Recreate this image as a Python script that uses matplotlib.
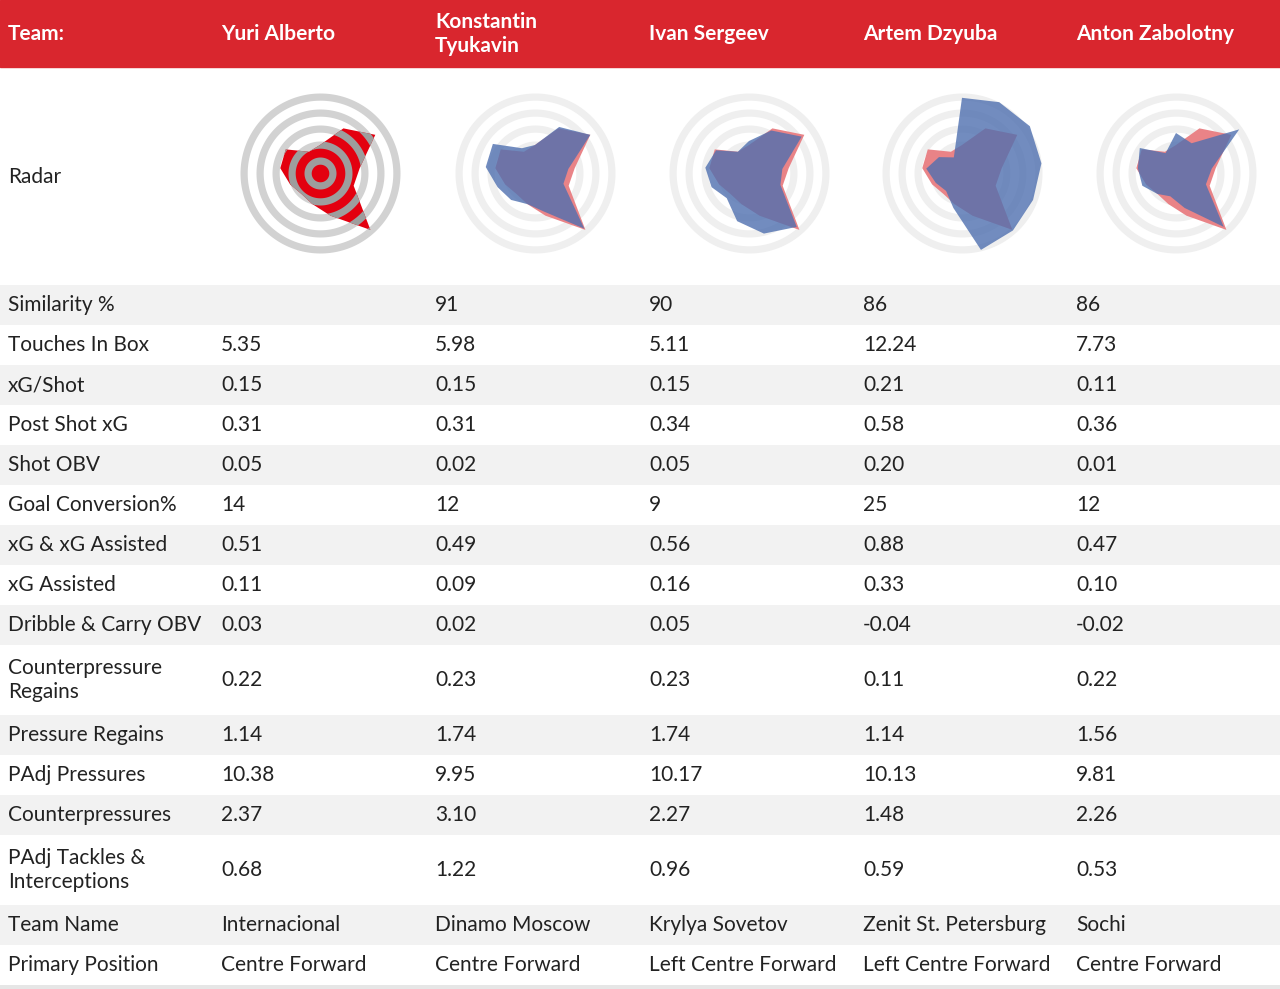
import numpy as np
import matplotlib.pyplot as plt
from matplotlib.patches import Rectangle

plt.rcParams['font.family'] = ['Lato', 'DejaVu Sans']

players = ["Yuri Alberto", "Konstantin\nTyukavin", "Ivan Sergeev", "Artem Dzyuba", "Anton Zabolotny"]
metrics = ["Similarity %", "Touches In Box", "xG/Shot", "Post Shot xG", "Shot OBV",
           "Goal Conversion%", "xG & xG Assisted", "xG Assisted", "Dribble & Carry OBV",
           "Counterpressure\nRegains", "Pressure Regains", "PAdj Pressures", "Counterpressures",
           "PAdj Tackles &\nInterceptions", "Team Name", "Primary Position"]
values = [
    ["", "91", "90", "86", "86"],
    ["5.35", "5.98", "5.11", "12.24", "7.73"],
    ["0.15", "0.15", "0.15", "0.21", "0.11"],
    ["0.31", "0.31", "0.34", "0.58", "0.36"],
    ["0.05", "0.02", "0.05", "0.20", "0.01"],
    ["14", "12", "9", "25", "12"],
    ["0.51", "0.49", "0.56", "0.88", "0.47"],
    ["0.11", "0.09", "0.16", "0.33", "0.10"],
    ["0.03", "0.02", "0.05", "-0.04", "-0.02"],
    ["0.22", "0.23", "0.23", "0.11", "0.22"],
    ["1.14", "1.74", "1.74", "1.14", "1.56"],
    ["10.38", "9.95", "10.17", "10.13", "9.81"],
    ["2.37", "3.10", "2.27", "1.48", "2.26"],
    ["0.68", "1.22", "0.96", "0.59", "0.53"],
    ["Internacional", "Dinamo Moscow", "Krylya Sovetov", "Zenit St. Petersburg", "Sochi"],
    ["Centre Forward", "Centre Forward", "Left Centre Forward", "Left Centre Forward", "Centre Forward"],
]
# radar radii (0-1), 13 axes clockwise from top
radar_base = [0.35, 0.63, 0.84, 0.5, 0.45, 0.95, 0.55, 0.4, 0.35, 0.4, 0.5, 0.52, 0.3]
radar_comp = [
    [0.35, 0.65, 0.84, 0.42, 0.38, 0.93, 0.5, 0.4, 0.45, 0.5, 0.62, 0.64, 0.35],
    [0.4, 0.6, 0.8, 0.42, 0.42, 0.9, 0.78, 0.62, 0.42, 0.5, 0.55, 0.5, 0.3],
    [0.94, 1.0, 1.03, 1.0, 0.95, 0.96, 0.99, 0.45, 0.3, 0.35, 0.45, 0.35, 0.22],
    [0.5, 0.42, 0.96, 0.45, 0.4, 0.9, 0.45, 0.3, 0.35, 0.45, 0.48, 0.55, 0.28],
]

W, H = 1280, 989
fig = plt.figure(figsize=(12.8, 9.89), dpi=100)
ax = fig.add_axes([0, 0, 1, 1])
ax.set_xlim(0, W)
ax.set_ylim(H, 0)
ax.axis("off")

col_x = [8, 221, 435, 649, 863, 1076]
RED = "#d9262e"
ax.add_patch(Rectangle((0, 0), W, 67, color=RED))
ax.text(col_x[0], 34, "Team:", color="white", fontsize=15, fontweight="bold", va="center")
for i, p in enumerate(players):
    ax.text(col_x[i + 1], 34, p, color="white", fontsize=15, fontweight="bold", va="center",
            linespacing=1.2)
ax.text(col_x[0], 177, "Radar", fontsize=15, va="center", color="#222222")

y = 285
for r, m in enumerate(metrics):
    h = 70 if "\n" in m else 40
    if r % 2 == 0:
        ax.add_patch(Rectangle((0, y), W, h, color="#f2f2f2", lw=0))
    ax.text(col_x[0], y + h / 2, m, fontsize=15, va="center", color="#222222", linespacing=1.3)
    for c, v in enumerate(values[r]):
        ax.text(col_x[c + 1], y + h / 2, v, fontsize=15, va="center", color="#222222")
    y += h
ax.add_patch(Rectangle((0, y), W, 4, color="#e6e6e6", lw=0))

# radars
n = len(radar_base)
theta = np.pi / 2 - np.arange(n) * 2 * np.pi / n
tt = np.append(theta, theta[0])
centers = [320, 535, 749, 962, 1176]
rad_px = 80
bands = [(0.11, 0.2), (0.31, 0.4), (0.51, 0.6), (0.71, 0.8), (0.91, 1.0)]
full = np.linspace(0, 2 * np.pi, 200)

for i, cx in enumerate(centers):
    pax = fig.add_axes([(cx - rad_px * 1.08) / W, 1 - (173 + rad_px * 1.08) / H,
                        2 * rad_px * 1.08 / W, 2 * rad_px * 1.08 / H], projection="polar")
    pax.set_ylim(0, 1.08)
    pax.axis("off")
    base_r = np.append(radar_base, radar_base[0])
    if i == 0:
        for a, b in bands:
            pax.fill_between(full, a, b, color="#d2d2d2", lw=0)
        poly = pax.fill(tt, base_r, color="#e3000f", lw=0, zorder=2)[0]
        for a, b in bands:
            f = pax.fill_between(full, a, b, color="#9d9d9d", lw=0, zorder=3)
            f.set_clip_path(poly)
    else:
        for a, b in bands:
            pax.fill_between(full, a, b, color="#efefef", lw=0)
        comp = radar_comp[i - 1]
        comp_r = np.append(comp, comp[0])
        pax.fill(tt, base_r, color="#e98387", lw=0, zorder=2)
        pax.fill(tt, comp_r, color="#4f70b0", lw=0, alpha=0.8, zorder=3)

fig.savefig("out.png", dpi=100)
